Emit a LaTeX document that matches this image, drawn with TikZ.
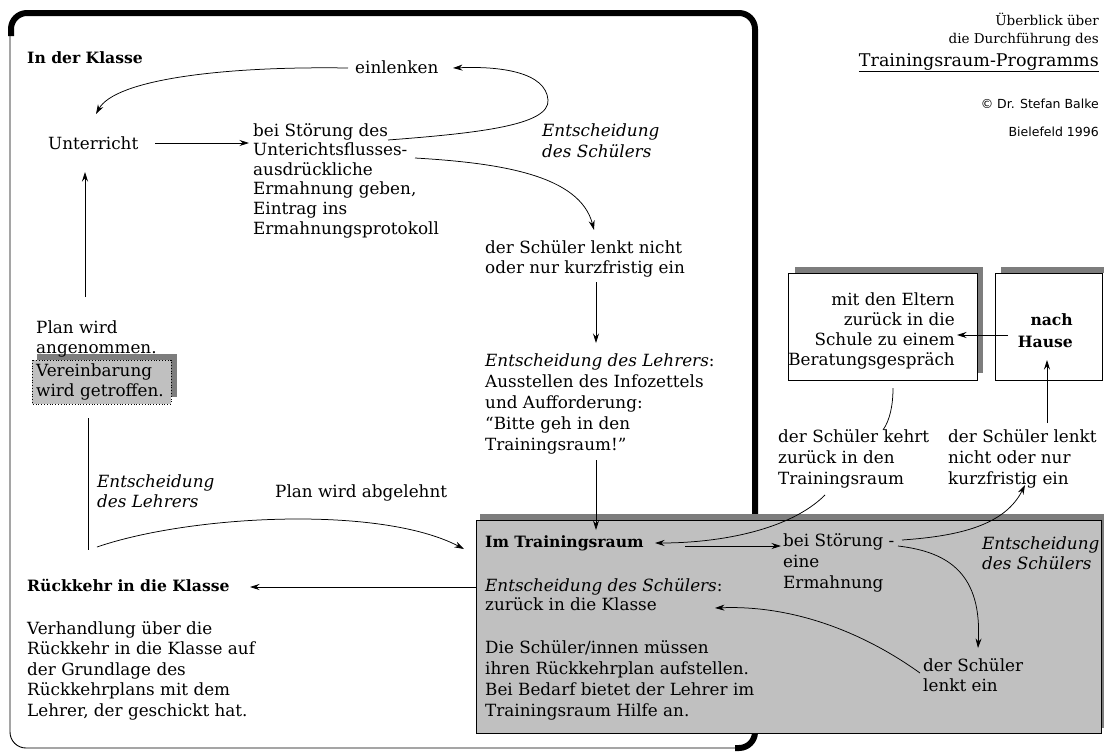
\documentclass[tikz,border=0pt]{standalone}
\usepackage{fontspec}
\setmainfont{DejaVu Serif}
\newfontfamily\sansfam{DejaVu Sans}
\usetikzlibrary{arrows.meta}
\definecolor{boxgrey}{RGB}{192,192,192}
\definecolor{hatchgrey}{RGB}{125,125,125}
\newcommand\fsz[1]{\fontsize{16.8}{#1}\selectfont}
\newcommand\fbold{\fontsize{15.6}{20}\selectfont\bfseries}
\begin{document}
\begin{tikzpicture}[x=1pt,y=-1pt,
  txt/.style={inner sep=0pt, align=left, anchor=base west, font=\fsz{21}},
  txtr/.style={inner sep=0pt, align=right, anchor=base east, font=\fsz{21}},
  arr/.style={-{Stealth[length=9.5pt,width=6pt]}, line width=0.75pt},
  ln/.style={line width=0.75pt},
  shadow/.style={fill=hatchgrey},
]
\useasboundingbox (0,0) rectangle (1104,753);
% ---------- big frame ----------
\draw[line width=0.9pt, rounded corners=16pt] (10,14) rectangle (755,748);
\draw[line width=6pt, rounded corners=16pt] (11,36) |- (755,13) |- (735,748);
% ---------- grey training room box ----------
\fill[shadow] (480,514) rectangle (1104,520);
\fill[shadow] (1100,514) rectangle (1104,728);
\draw[line width=0.9pt, fill=boxgrey] (476,520) rectangle (1101,733);
% ---------- right boxes ----------
\fill[shadow] (795,267) rectangle (983,273);
\fill[shadow] (977,267) rectangle (983,373);
\draw[line width=0.9pt, fill=white] (788,273) rectangle (977,380);
\fill[shadow] (1001,267) rectangle (1104,273);
\draw[line width=0.9pt, fill=white] (995,273) rectangle (1102,380);
% ---------- Vereinbarung box ----------
\fill[shadow] (37,354) rectangle (177,360);
\fill[shadow] (171,354) rectangle (177,397);
\draw[line width=0.8pt, dotted, fill=boxgrey] (32,360) rectangle (171,404);

% ---------- texts (anchor = baseline of the LAST line) ----------
\node[txt, font=\fbold] (kl) at (27,63) {In der Klasse};
\node[txt] (einl) at (355,73) {einlenken};
\node[txt] (unt) at (48,149) {Unterricht};
\node[txt, font=\fsz{19.6}] (bs) at (253,234) {bei Störung des\\Unterichtsflusses-\\ausdrückliche\\Ermahnung geben,\\Eintrag ins\\Ermahnungsprotokoll};
\node[txt, font=\fsz{21}\itshape] (es1) at (542,157) {Entscheidung\\des Schülers};
\node[txt, font=\fsz{20}] (lnicht) at (485,273) {der Schüler lenkt nicht\\oder nur kurzfristig ein};
\node[txt] (lehrer) at (485,450) {\textit{Entscheidung des Lehrers}:\\Ausstellen des Infozettels\\und Aufforderung:\\“Bitte geh in den\\Trainingsraum!”};
\node[txt, font=\fsz{20}] (plan) at (36,353) {Plan wird\\angenommen.};
\node[txt, font=\fsz{20}] (ver) at (36,396) {Vereinbarung\\wird getroffen.};
\node[txt, font=\fsz{20}\itshape] (el) at (97,507) {Entscheidung\\des Lehrers};
\node[txt] (abg) at (275,497) {Plan wird abgelehnt};
\node[txt, font=\fbold] (rk) at (27,591) {Rückkehr in die Klasse};
\node[txt, font=\fsz{20.5}] (verh) at (27,716) {Verhandlung über die\\Rückkehr in die Klasse auf\\der Grundlage des\\Rückkehrplans mit dem\\Lehrer, der geschickt hat.};
\node[txt, font=\fbold] (it) at (485,547) {Im Trainingsraum};
\node[txt] (bst) at (783,588) {bei Störung -\\eine\\Ermahnung};
\node[txt, font=\fsz{20}\itshape] (es2) at (982,569) {Entscheidung\\des Schülers};
\node[txt, font=\fsz{19.5}] (ezk) at (485,610.5) {\textit{Entscheidung des Schülers}:\\zurück in die Klasse};
\node[txt] (dsi) at (485,716) {Die Schüler/innen müssen\\ihren Rückkehrplan aufstellen.\\Bei Bedarf bietet der Lehrer im\\Trainingsraum Hilfe an.};
\node[txt, font=\fsz{20}] (dsle) at (923,691) {der Schüler\\lenkt ein};
\node[txt] (kehrt) at (778,484) {der Schüler kehrt\\zurück in den\\Trainingsraum};
\node[txt] (lnn) at (948,484) {der Schüler lenkt\\nicht oder nur\\kurzfristig ein};
\node[txtr, font=\fsz{20}] (eltern) at (955,365) {mit den Eltern\\zurück in die\\Schule zu einem\\Beratungsgespräch};
\node[txtr, font=\fontsize{15.6}{22}\selectfont\bfseries] (haus) at (1073,347) {nach\\Hause};
% title block
\node[txtr, font=\fontsize{13.5}{18}\selectfont] (t1) at (1099,43) {Überblick über\\die Durchführung des};
\node[txtr, font=\fontsize{17.5}{20}\selectfont] (t2) at (1099,66) {\underline{Trainingsraum-Programms}};
\node[txtr, font=\sansfam\fontsize{12.5}{15}\selectfont] (t3) at (1099,108) {© Dr. Stefan Balke};
\node[txtr, font=\sansfam\fontsize{12.5}{15}\selectfont] (t4) at (1099,136) {Bielefeld 1996};

% ---------- connector end points ----------
\coordinate (c1s) at (348,68);
\coordinate (c1e) at (96,114);
\coordinate (c2s) at (388,140);
\coordinate (c2m) at (548,100);
\coordinate (c2e) at (453,68);
\coordinate (c3s) at (155,143);
\coordinate (c3e) at (249,143);
\coordinate (c4s) at (415,158);
\coordinate (c4e) at (594,230);
\coordinate (c5s) at (596,282);
\coordinate (c5e) at (596,343);
\coordinate (c6s) at (596,460);
\coordinate (c6e) at (596,530);
\coordinate (c7s) at (85,297);
\coordinate (c7e) at (85,172);
\coordinate (c8s) at (88,418);
\coordinate (c8e) at (88,550);
\coordinate (c9s) at (97,547);
\coordinate (c9e) at (464,549);
\coordinate (c10s) at (476,587);
\coordinate (c10e) at (250,587);
\coordinate (c11s) at (825,495);
\coordinate (c11e) at (655,543);
\coordinate (c12s) at (685,546);
\coordinate (c12e) at (781,546);
\coordinate (c13s) at (902,540);
\coordinate (c13e) at (1025,485);
\coordinate (c14s) at (898,546);
\coordinate (c14e) at (978,648);
\coordinate (c15s) at (920,673);
\coordinate (c15e) at (715,608);
\coordinate (c16s) at (1047,423);
\coordinate (c16e) at (1047,360);
\coordinate (c17s) at (1008,335);
\coordinate (c17e) at (957,335);
\coordinate (c18s) at (893,388);
\coordinate (c18e) at (883,430);

% ---------- connectors ----------
\draw[arr] (c1s) .. controls (220,66) and (115,80) .. (c1e);
\draw[arr] (c2s) .. controls (480,133) and (550,125) .. (c2m) .. controls (546,72) and (500,66) .. (c2e);
\draw[arr] (c3s) -- (c3e);
\draw[arr] (c4s) .. controls (500,163) and (580,175) .. (c4e);
\draw[arr] (c5s) -- (c5e);
\draw[arr] (c6s) -- (c6e);
\draw[arr] (c7s) -- (c7e);
\draw[ln] (c8s) -- (c8e);
\draw[arr] (c9s) .. controls (190,515) and (380,505) .. (c9e);
\draw[arr] (c10s) -- (c10e);
\draw[arr] (c11s) .. controls (790,530) and (720,543) .. (c11e);
\draw[arr] (c12s) -- (c12e);
\draw[arr] (c13s) .. controls (960,536) and (1005,525) .. (c13e);
\draw[arr] (c14s) .. controls (950,552) and (982,575) .. (c14e);
\draw[arr] (c15s) .. controls (860,630) and (790,605) .. (c15e);
\draw[arr] (c16s) -- (c16e);
\draw[arr] (c17s) -- (c17e);
\draw[ln] (c18s) .. controls (893,405) and (890,420) .. (c18e);
\end{tikzpicture}
\end{document}
